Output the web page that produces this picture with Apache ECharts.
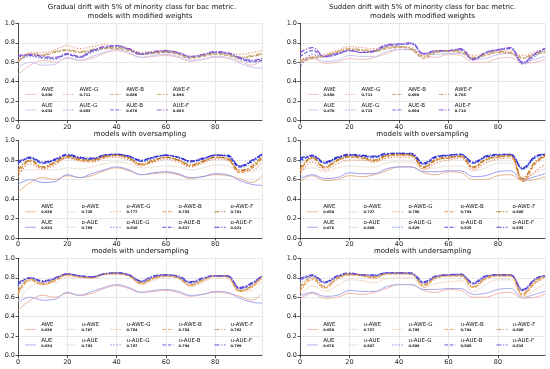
<!DOCTYPE html>
<html><head><meta charset="utf-8">
<script src="https://cdn.jsdelivr.net/npm/echarts@6/dist/echarts.min.js"></script>
<style>html,body{margin:0;padding:0;background:#fff}#c{width:550px;height:369px}</style>
</head><body><div id="c"></div>
<script>
// ---------- data ----------
const steps = [0,5,10,15,20,25,30,35,40,45,50,55,60,65,70,75,80,85,90,95,99];
const xTickStep = 20;
const yTickStep = 0.2;

// Gradual drift (left column) baselines
const gAWE = [0.47,0.57,0.62,0.60,0.64,0.62,0.64,0.69,0.72,0.69,0.65,0.66,0.67,0.65,0.61,0.63,0.65,0.64,0.61,0.57,0.64];
const gAUE = [0.55,0.60,0.57,0.58,0.65,0.62,0.66,0.70,0.73,0.70,0.65,0.67,0.68,0.66,0.62,0.63,0.66,0.65,0.59,0.55,0.54];
// Gradual – modified weights
const gW_AWE_G = [0.62,0.70,0.70,0.73,0.77,0.74,0.76,0.78,0.76,0.74,0.70,0.71,0.72,0.70,0.66,0.68,0.70,0.69,0.68,0.70,0.72];
const gW_AWE_B = [0.60,0.68,0.67,0.70,0.72,0.70,0.72,0.74,0.74,0.72,0.68,0.69,0.70,0.68,0.64,0.66,0.68,0.67,0.64,0.66,0.68];
const gW_AWE_F = [0.61,0.69,0.68,0.71,0.73,0.71,0.73,0.75,0.75,0.73,0.69,0.70,0.71,0.69,0.65,0.67,0.69,0.68,0.65,0.67,0.69];
const gW_AUE_G = [0.62,0.66,0.64,0.63,0.68,0.65,0.70,0.74,0.76,0.73,0.68,0.70,0.71,0.70,0.66,0.68,0.70,0.69,0.63,0.60,0.61];
const gW_AUE_B = [0.66,0.67,0.65,0.64,0.68,0.65,0.71,0.75,0.77,0.73,0.68,0.70,0.71,0.69,0.65,0.67,0.70,0.69,0.64,0.61,0.62];
const gW_AUE_F = [0.67,0.68,0.66,0.65,0.69,0.66,0.72,0.76,0.77,0.74,0.69,0.71,0.72,0.70,0.66,0.68,0.71,0.70,0.65,0.62,0.64];
// Gradual – oversampling
const gO_AWE   = [0.68,0.70,0.70,0.70,0.72,0.71,0.73,0.76,0.78,0.76,0.72,0.73,0.74,0.73,0.70,0.72,0.75,0.74,0.69,0.68,0.72];
const gO_AUE   = [0.74,0.80,0.76,0.78,0.82,0.80,0.80,0.83,0.84,0.82,0.78,0.81,0.82,0.80,0.77,0.79,0.82,0.81,0.72,0.76,0.82];
const gO_AWE_G = [0.63,0.76,0.71,0.75,0.82,0.79,0.78,0.82,0.83,0.80,0.74,0.78,0.81,0.78,0.73,0.77,0.81,0.80,0.70,0.70,0.78];
const gO_AWE_B = [0.66,0.79,0.72,0.77,0.83,0.80,0.79,0.83,0.85,0.82,0.75,0.79,0.83,0.80,0.74,0.78,0.83,0.81,0.67,0.72,0.82];
const gO_AWE_F = [0.70,0.80,0.73,0.78,0.84,0.81,0.80,0.84,0.85,0.82,0.76,0.80,0.83,0.80,0.75,0.79,0.83,0.82,0.69,0.74,0.84];
const gO_AUE_G = [0.76,0.82,0.77,0.80,0.85,0.82,0.81,0.84,0.86,0.83,0.79,0.82,0.85,0.82,0.78,0.81,0.85,0.84,0.74,0.78,0.85];
const gO_AUE_B = [0.77,0.82,0.77,0.80,0.85,0.82,0.81,0.85,0.86,0.84,0.79,0.83,0.85,0.83,0.79,0.81,0.85,0.84,0.73,0.79,0.86];
const gO_AUE_F = [0.78,0.83,0.78,0.81,0.86,0.83,0.82,0.85,0.86,0.84,0.80,0.83,0.85,0.83,0.79,0.82,0.85,0.85,0.74,0.80,0.86];
// Gradual – undersampling
const gU_AWE   = [0.56,0.71,0.75,0.75,0.81,0.80,0.79,0.83,0.84,0.81,0.73,0.77,0.81,0.79,0.71,0.75,0.80,0.79,0.66,0.67,0.77];
const gU_AUE   = [0.70,0.78,0.75,0.78,0.83,0.81,0.80,0.84,0.84,0.82,0.75,0.80,0.82,0.80,0.74,0.78,0.82,0.81,0.68,0.72,0.80];
const gU_AWE_G = [0.62,0.77,0.73,0.77,0.83,0.81,0.80,0.84,0.84,0.82,0.74,0.79,0.82,0.80,0.72,0.77,0.82,0.81,0.67,0.70,0.80];
const gU_AWE_B = [0.64,0.78,0.73,0.77,0.83,0.81,0.80,0.84,0.84,0.82,0.74,0.79,0.82,0.80,0.72,0.77,0.82,0.81,0.66,0.71,0.81];
const gU_AWE_F = [0.66,0.79,0.74,0.78,0.84,0.81,0.80,0.84,0.85,0.82,0.75,0.80,0.82,0.80,0.73,0.78,0.82,0.81,0.67,0.72,0.82];
const gU_AUE_G = [0.72,0.80,0.76,0.79,0.84,0.82,0.81,0.84,0.85,0.83,0.76,0.81,0.83,0.81,0.75,0.79,0.82,0.82,0.69,0.74,0.82];
const gU_AUE_B = [0.73,0.80,0.76,0.79,0.84,0.82,0.81,0.84,0.85,0.83,0.76,0.81,0.83,0.81,0.75,0.79,0.82,0.82,0.69,0.74,0.82];
const gU_AUE_F = [0.75,0.80,0.77,0.80,0.84,0.82,0.81,0.84,0.85,0.83,0.77,0.82,0.83,0.82,0.76,0.80,0.82,0.82,0.70,0.75,0.82];

// Sudden drift (right column) baselines
const sAWE = [0.58,0.64,0.59,0.60,0.64,0.63,0.65,0.69,0.73,0.73,0.67,0.65,0.68,0.67,0.60,0.60,0.64,0.65,0.59,0.60,0.63];
const sAUE = [0.61,0.65,0.61,0.62,0.67,0.66,0.66,0.71,0.73,0.73,0.68,0.68,0.69,0.69,0.63,0.64,0.68,0.69,0.60,0.63,0.66];
// Sudden – modified weights
const sW_AWE_G = [0.63,0.66,0.68,0.72,0.76,0.75,0.74,0.76,0.76,0.75,0.66,0.72,0.72,0.72,0.67,0.69,0.72,0.71,0.67,0.71,0.74];
const sW_AWE_B = [0.60,0.64,0.66,0.70,0.73,0.72,0.71,0.74,0.75,0.73,0.64,0.70,0.71,0.70,0.64,0.67,0.70,0.69,0.64,0.68,0.70];
const sW_AWE_F = [0.62,0.65,0.67,0.71,0.74,0.73,0.72,0.75,0.76,0.74,0.66,0.71,0.72,0.71,0.65,0.68,0.71,0.70,0.65,0.69,0.71];
const sW_AUE_G = [0.54,0.68,0.65,0.68,0.72,0.70,0.71,0.77,0.78,0.79,0.68,0.71,0.72,0.73,0.62,0.69,0.72,0.74,0.58,0.66,0.73];
const sW_AUE_B = [0.66,0.72,0.66,0.68,0.72,0.70,0.71,0.77,0.78,0.79,0.69,0.71,0.72,0.73,0.63,0.70,0.73,0.74,0.59,0.68,0.74];
const sW_AUE_F = [0.70,0.75,0.66,0.69,0.72,0.70,0.72,0.78,0.79,0.80,0.69,0.72,0.72,0.74,0.63,0.70,0.73,0.75,0.60,0.69,0.74];
// Sudden – oversampling
const sO_AWE   = [0.70,0.72,0.68,0.72,0.74,0.73,0.73,0.77,0.78,0.78,0.71,0.72,0.74,0.74,0.69,0.72,0.77,0.77,0.63,0.67,0.71];
const sO_AUE   = [0.76,0.82,0.76,0.80,0.83,0.82,0.81,0.84,0.85,0.85,0.75,0.80,0.82,0.83,0.76,0.80,0.83,0.84,0.70,0.78,0.83];
const sO_AWE_G = [0.65,0.78,0.70,0.76,0.80,0.80,0.78,0.82,0.83,0.83,0.70,0.77,0.80,0.82,0.70,0.77,0.81,0.82,0.60,0.68,0.76];
const sO_AWE_B = [0.68,0.82,0.72,0.79,0.83,0.82,0.79,0.84,0.85,0.85,0.72,0.80,0.82,0.84,0.72,0.80,0.83,0.84,0.58,0.76,0.84];
const sO_AWE_F = [0.71,0.83,0.73,0.80,0.84,0.83,0.80,0.85,0.86,0.85,0.73,0.81,0.83,0.84,0.73,0.81,0.84,0.85,0.61,0.78,0.85];
const sO_AUE_G = [0.78,0.84,0.77,0.82,0.85,0.84,0.83,0.86,0.86,0.86,0.76,0.83,0.84,0.85,0.77,0.83,0.85,0.85,0.71,0.82,0.85];
const sO_AUE_B = [0.80,0.84,0.77,0.82,0.85,0.84,0.83,0.86,0.87,0.86,0.76,0.83,0.85,0.86,0.77,0.83,0.85,0.86,0.71,0.83,0.86];
const sO_AUE_F = [0.82,0.85,0.78,0.83,0.86,0.85,0.84,0.87,0.87,0.87,0.77,0.84,0.85,0.86,0.78,0.84,0.86,0.86,0.72,0.84,0.86];
// Sudden – undersampling
const sU_AWE   = [0.60,0.72,0.66,0.72,0.78,0.77,0.75,0.79,0.80,0.80,0.70,0.74,0.76,0.77,0.66,0.73,0.78,0.78,0.60,0.68,0.74];
const sU_AUE   = [0.74,0.80,0.74,0.80,0.83,0.82,0.81,0.84,0.84,0.84,0.74,0.80,0.82,0.82,0.73,0.80,0.82,0.82,0.66,0.76,0.81];
const sU_AWE_G = [0.65,0.78,0.69,0.78,0.83,0.82,0.79,0.84,0.84,0.84,0.71,0.79,0.82,0.82,0.70,0.78,0.82,0.82,0.63,0.74,0.80];
const sU_AWE_B = [0.67,0.79,0.70,0.79,0.83,0.82,0.80,0.84,0.84,0.84,0.72,0.80,0.82,0.82,0.70,0.79,0.82,0.82,0.62,0.75,0.81];
const sU_AWE_F = [0.70,0.81,0.71,0.80,0.84,0.83,0.81,0.84,0.85,0.84,0.73,0.81,0.83,0.83,0.71,0.80,0.83,0.83,0.64,0.77,0.82];
const sU_AUE_G = [0.77,0.82,0.75,0.81,0.84,0.83,0.82,0.85,0.85,0.84,0.75,0.81,0.83,0.83,0.74,0.81,0.83,0.83,0.67,0.78,0.82];
const sU_AUE_B = [0.78,0.82,0.75,0.81,0.84,0.83,0.82,0.85,0.85,0.84,0.75,0.81,0.83,0.83,0.74,0.81,0.83,0.83,0.67,0.78,0.82];
const sU_AUE_F = [0.79,0.83,0.76,0.82,0.85,0.83,0.83,0.85,0.85,0.85,0.76,0.82,0.83,0.84,0.75,0.82,0.83,0.83,0.68,0.79,0.83];

// legend names (row 1 then row 2) and scores
const namesW = ['AWE','AWE-G','AWE-B','AWE-F','AUE','AUE-G','AUE-B','AUE-F'];
const namesO = ['AWE','o-AWE','o-AWE-G','o-AWE-B','o-AWE-F','AUE','o-AUE','o-AUE-G','o-AUE-B','o-AUE-F'];
const namesU = ['AWE','u-AWE','u-AWE-G','u-AWE-B','u-AWE-F','AUE','u-AUE','u-AUE-G','u-AUE-B','u-AUE-F'];
const scoresGW = ['0.636','0.711','0.686','0.696','0.634','0.683','0.676','0.683'];
const scoresGO = ['0.636','0.728','0.777','0.783','0.791','0.634','0.789','0.816','0.817','0.821'];
const scoresGU = ['0.636','0.767','0.784','0.784','0.792','0.634','0.792','0.797','0.794','0.799'];
const scoresSW = ['0.650','0.711','0.690','0.705','0.676','0.713','0.694','0.714'];
const scoresSO = ['0.650','0.727','0.786','0.794','0.808','0.676','0.809','0.829','0.825','0.835'];
const scoresSU = ['0.650','0.757','0.795','0.794','0.808','0.676','0.807','0.809','0.805','0.815'];

const titleGradual = 'Gradual drift with 5% of minority class for bac metric.';
const titleSudden = 'Sudden drift with 5% of minority class for bac metric.';
const rowTitles = ['models with modified weights','models with oversampling','models with undersampling'];

// ---------- styling ----------
const FONT = '"DejaVu Sans", sans-serif';
const DOT = [1.2,1.8], DASH = [3.7,1.6], DASHDOT = [5,1.6,1.2,1.6];
const styW = [['#f2c0c0',null,1],['#e8907a',DOT,1.2],['#c4a07e',DASH,1.2],['#c9a464',DASHDOT,1.2],
              ['#c8c4ee',null,1],['#7f7fe0',DOT,1.2],['#6464d6',DASH,1.2],['#8a4cd8',DASHDOT,1.2]];
const styO = [['#e6b58e',null,1],['#ebe0d6',null,1],['#e8825a',DOT,1.2],['#e08a2c',DASH,1.2],['#b8701e',DASHDOT,1.2],
              ['#9c9cf0',null,1],['#dcdcdc',null,1],['#3a5af0',DOT,1.2],['#2a3ae0',DASH,1.2],['#3a28c8',DASHDOT,1.2]];
const styU = [['#f0b4a8',null,1],['#f2dccc',null,1],['#f09a6a',DOT,1.2],['#eea050',DASH,1.2],['#c89a60',DASHDOT,1.2],
              ['#a8a8f0',null,1],['#e2e2de',null,1],['#5a5ae8',DOT,1.2],['#5050e0',DASH,1.2],['#5a40d0',DASHDOT,1.2]];

const panels = [
  {col:0,row:0,names:namesW,scores:scoresGW,sty:styW,data:[gAWE,gW_AWE_G,gW_AWE_B,gW_AWE_F,gAUE,gW_AUE_G,gW_AUE_B,gW_AUE_F]},
  {col:1,row:0,names:namesW,scores:scoresSW,sty:styW,data:[sAWE,sW_AWE_G,sW_AWE_B,sW_AWE_F,sAUE,sW_AUE_G,sW_AUE_B,sW_AUE_F]},
  {col:0,row:1,names:namesO,scores:scoresGO,sty:styO,data:[gAWE,gO_AWE,gO_AWE_G,gO_AWE_B,gO_AWE_F,gAUE,gO_AUE,gO_AUE_G,gO_AUE_B,gO_AUE_F]},
  {col:1,row:1,names:namesO,scores:scoresSO,sty:styO,data:[sAWE,sO_AWE,sO_AWE_G,sO_AWE_B,sO_AWE_F,sAUE,sO_AUE,sO_AUE_G,sO_AUE_B,sO_AUE_F]},
  {col:0,row:2,names:namesU,scores:scoresGU,sty:styU,data:[gAWE,gU_AWE,gU_AWE_G,gU_AWE_B,gU_AWE_F,gAUE,gU_AUE,gU_AUE_G,gU_AUE_B,gU_AUE_F]},
  {col:1,row:2,names:namesU,scores:scoresSU,sty:styU,data:[sAWE,sU_AWE,sU_AWE_G,sU_AWE_B,sU_AWE_F,sAUE,sU_AUE,sU_AUE_G,sU_AUE_B,sU_AUE_F]}
];

const colLeft = [18, 300], colWidth = [244, 245];
const rowTop = [23.3, 140.6, 258.3], rowH = 97.4;
const legCols4 = [7, 45, 91.7, 138.3], legCols5 = [6.7, 47, 92, 144, 196];
const legRowOff = [-34, -18.5];

const grids = [], xAxes = [], yAxes = [], series = [], legends = [], graphics = [];
const labelMap = {};
panels.forEach((p, i) => {
  const left = colLeft[p.col], top = rowTop[p.row], w = colWidth[p.col];
  grids.push({left: left, top: top, width: w, height: rowH, containLabel: false});
  xAxes.push({gridIndex: i, type: 'value', min: 0, max: 99, interval: xTickStep,
    axisLine: {show: true, onZero: false, lineStyle: {color: '#222', width: 0.8}},
    axisTick: {show: true, length: 2.5, lineStyle: {color: '#222', width: 0.8}},
    axisLabel: {fontSize: 6.5, color: '#222', margin: 3, fontFamily: FONT, showMaxLabel: false},
    splitLine: {show: true, lineStyle: {color: '#e2e2e2', width: 0.8}}});
  yAxes.push({gridIndex: i, type: 'value', min: 0, max: 1, interval: yTickStep,
    axisLine: {show: true, onZero: false, lineStyle: {color: '#222', width: 0.8}},
    axisTick: {show: true, length: 2.5, lineStyle: {color: '#222', width: 0.8}},
    axisLabel: {fontSize: 6.5, color: '#222', margin: 3, fontFamily: FONT, formatter: v => v.toFixed(1)},
    splitLine: {show: true, lineStyle: {color: '#e2e2e2', width: 0.8}}});
  const n = p.names.length, half = n / 2;
  const uid = j => i + '|' + j;
  p.names.forEach((nm, j) => { labelMap[uid(j)] = [nm, p.scores[j]]; });
  for (let k = 0; k < half; k++) {
    for (const r of [0, 1]) {
      const j = r * half + k;
      const s = p.sty[j];
      series.push({type: 'line', name: uid(j), xAxisIndex: i, yAxisIndex: i,
        data: steps.map((x, q) => [x, p.data[j][q]]),
        symbol: 'none', smooth: 0.4, silent: true,
        lineStyle: {color: s[0], width: s[2], type: s[1] || 'solid'},
        itemStyle: {color: s[0]}});
    }
  }
  const cols = half === 4 ? legCols4 : legCols5;
  p.names.forEach((nm, j) => {
    const r = Math.floor(j / half), c = j % half;
    legends.push({show: true, left: left + cols[c], top: top + rowH + legRowOff[r],
      orient: 'horizontal', padding: 0, itemGap: 0, itemWidth: 11, itemHeight: 2,
      selectedMode: false, data: [uid(j)],
      itemStyle: {color: 'rgba(0,0,0,0)', borderColor: 'rgba(0,0,0,0)', borderWidth: 0, opacity: 0},
      lineStyle: {width: 0.9},
      formatter: name => '{n|' + labelMap[name][0] + '}\n{v|' + labelMap[name][1] + '}\n{s| }',
      textStyle: {fontFamily: FONT, color: '#111', rich: {
        n: {fontSize: 5.5, lineHeight: 6.5, fontFamily: FONT, color: '#111'},
        v: {fontSize: 3.5, lineHeight: 4.5, fontWeight: 'bold', fontFamily: FONT, color: '#111'},
        s: {fontSize: 3, lineHeight: 5}}}});
  });
});

const titleTxt = (t, x, y) => ({type: 'text', x: x, y: y, silent: true,
  style: {text: t, fill: '#111', font: '7px ' + FONT, fontSize: 7, fontFamily: FONT,
    textAlign: 'center', textVerticalAlign: 'middle', align: 'center', verticalAlign: 'middle'}});
const cx = [colLeft[0] + colWidth[0] / 2, colLeft[1] + colWidth[1] / 2];
graphics.push(titleTxt(titleGradual, cx[0] + 2, 7.5));
graphics.push(titleTxt(titleSudden, cx[1], 7.5));
[16.6, 134.5, 251.5].forEach((y, r) => {
  graphics.push(titleTxt(rowTitles[r], cx[0], y));
  graphics.push(titleTxt(rowTitles[r], cx[1], y));
});

const chart = echarts.init(document.getElementById('c'), null, {renderer: 'canvas'});
chart.setOption({
  backgroundColor: '#ffffff', animation: false,
  grid: grids, xAxis: xAxes, yAxis: yAxes, series: series, legend: legends,
  graphic: graphics
});
</script></body></html>
